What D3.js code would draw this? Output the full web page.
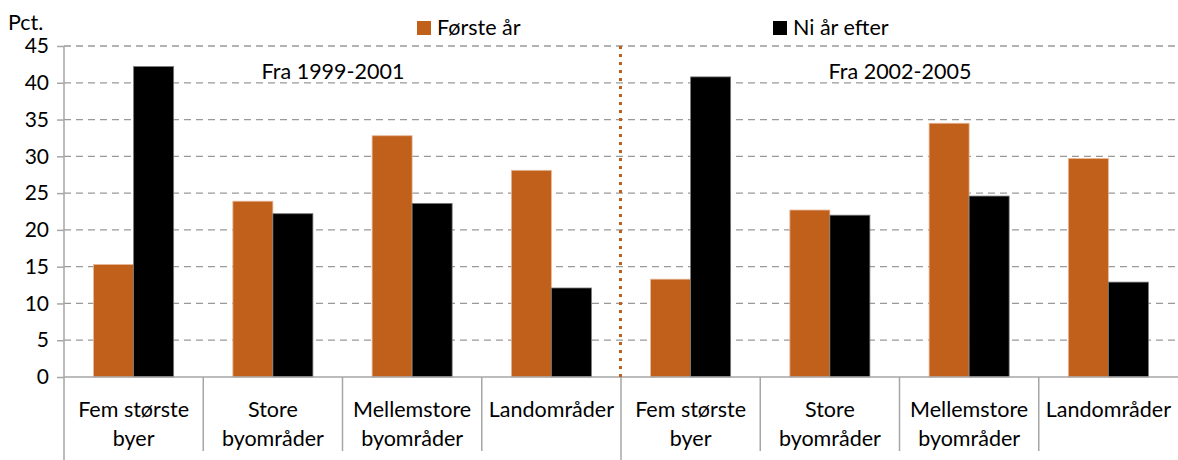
<!DOCTYPE html>
<html><head><meta charset="utf-8">
<script src="https://cdn.jsdelivr.net/npm/d3@7"></script>
<style>body{margin:0;background:#fff}svg{display:block}text{font-family:Lato,"Open Sans",sans-serif;fill:#000}</style>
</head><body><svg id="c" width="1178" height="460"></svg>
<script>
const categories = [
  ["Fem største","byer"],["Store","byområder"],["Mellemstore","byområder"],["Landområder"],
  ["Fem største","byer"],["Store","byområder"],["Mellemstore","byområder"],["Landområder"]
];
const series = ["Første år","Ni år efter"];
const foersteAar = [15.3, 23.9, 32.8, 28.1, 13.3, 22.7, 34.5, 29.7];
const niAarEfter = [42.2, 22.2, 23.6, 12.1, 40.8, 22.0, 24.6, 12.9];
const yTicks = [0,5,10,15,20,25,30,35,40,45];
const periodLabels = ["Fra 1999-2001","Fra 2002-2005"];
const colors = ["#C0601B","#000000"];

(function(){
const svg = d3.select("#c");
const pL = 64, pR = 1178, pT = 46, pB = 377;
const FS = "21.5px";
const x = d3.scaleBand().domain(d3.range(categories.length)).range([pL,pR]);
const y = d3.scaleLinear().domain([0,45]).range([pB,pT]);
const inner = d3.scaleBand().domain([0,1]).range([0,x.bandwidth()]).paddingOuter(0.74).paddingInner(0);

svg.append("g").selectAll("line").data(yTicks.filter(d=>d>0)).join("line")
  .attr("x1",pL).attr("x2",pR).attr("y1",d=>y(d)).attr("y2",d=>y(d))
  .attr("stroke","#999").attr("stroke-width",1.3).attr("stroke-dasharray","7,5");

const data = [foersteAar, niAarEfter];
data.forEach((vals,si)=>{
  svg.append("g").selectAll("rect").data(vals).join("rect")
    .attr("x",(d,i)=>x(i)+inner(si)).attr("width",inner.bandwidth())
    .attr("y",d=>y(d)).attr("height",d=>y(0)-y(d))
    .attr("fill",colors[si])
    .attr("stroke",si===0?"#e8b89a":"#777").attr("stroke-width",0.8);
});

const yAxis = d3.axisLeft(y).tickValues(yTicks).tickSize(7).tickPadding(8);
const gy = svg.append("g").attr("transform",`translate(${pL},0)`).call(yAxis);
gy.select(".domain").remove();
gy.selectAll(".tick line").attr("stroke","#a6a6a6").attr("stroke-width",1.5);
gy.selectAll(".tick text").style("font-size","21px").attr("font-family","Lato, 'Open Sans', sans-serif").attr("fill","#000");
svg.append("line").attr("x1",pL).attr("x2",pL).attr("y1",pT).attr("y2",460).attr("stroke","#a6a6a6").attr("stroke-width",1.5);
svg.append("line").attr("x1",pL).attr("x2",pR).attr("y1",pB).attr("y2",pB).attr("stroke","#a6a6a6").attr("stroke-width",1.5);
svg.append("g").selectAll("line").data(d3.range(1,categories.length)).join("line")
  .attr("x1",i=>x(i)).attr("x2",i=>x(i)).attr("y1",pB).attr("y2",i=>i===4?460:451)
  .attr("stroke","#a6a6a6").attr("stroke-width",1.5);

const cl = svg.append("g").selectAll("text").data(categories).join("text")
  .attr("text-anchor","middle").style("font-size",FS);
cl.each(function(lines,i){
  const t = d3.select(this);
  lines.forEach((l,k)=>t.append("tspan").attr("x",x(i)+x.bandwidth()/2).attr("y",417+k*29).text(l));
});

svg.append("line").attr("x1",x(4)-0.5).attr("x2",x(4)-0.5).attr("y1",pT).attr("y2",pB)
  .attr("stroke","#C0601B").attr("stroke-width",3).attr("stroke-dasharray","3,5");

svg.append("text").attr("x",333).attr("y",79).attr("text-anchor","middle").style("font-size",FS).text(periodLabels[0]);
svg.append("text").attr("x",900).attr("y",79).attr("text-anchor","middle").style("font-size",FS).text(periodLabels[1]);

svg.append("text").attr("x",8).attr("y",30).style("font-size",FS).text("Pct.");

const leg = [{x:417, label:series[0], c:colors[0]},{x:773, label:series[1], c:colors[1]}];
leg.forEach(l=>{
  svg.append("rect").attr("x",l.x).attr("y",21).attr("width",14).attr("height",14).attr("fill",l.c);
  svg.append("text").attr("x",l.x+20).attr("y",35).style("font-size",FS).text(l.label);
});
})();
</script></body></html>
